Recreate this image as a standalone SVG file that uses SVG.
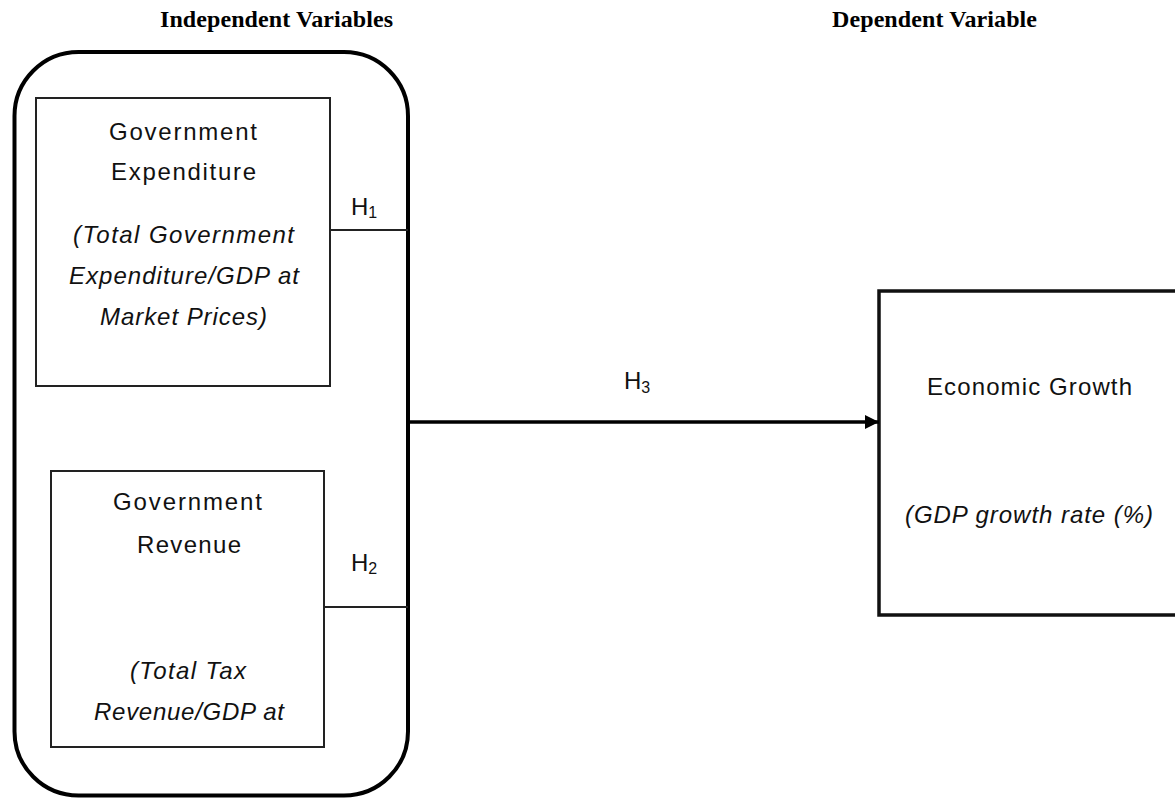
<svg xmlns="http://www.w3.org/2000/svg" width="1175" height="799" viewBox="0 0 1175 799">
<defs>
<style>
.hdr{font-family:"Liberation Serif","Times New Roman",serif;font-weight:bold;font-size:24px;fill:#000;text-anchor:middle}
.t{font-family:"Liberation Sans",Arial,sans-serif;font-size:24px;fill:#111;text-anchor:middle}
.i{font-style:italic}
.h{font-family:"Liberation Sans",Arial,sans-serif;font-size:24px;fill:#111}
.s{font-size:16px}
.box{fill:#fff;stroke:#222;stroke-width:2}
.line{stroke:#222;stroke-width:2;fill:none}
</style>
<marker id="arrh" markerWidth="15" markerHeight="15" refX="14" refY="7" orient="auto" markerUnits="userSpaceOnUse">
<path d="M0,0 L14,7 L0,14 z" fill="#000"/>
</marker>
</defs>
<rect width="1175" height="799" fill="#fff"/>
<text class="hdr" x="276.5" y="27" textLength="233">Independent Variables</text>
<text class="hdr" x="934.5" y="27" textLength="205">Dependent Variable</text>
<g id="independent-group">
<rect x="14.5" y="52" width="393.5" height="743.5" rx="64" ry="64" fill="none" stroke="#000" stroke-width="4"/>
</g>
<g id="gov-expenditure">
<rect class="box" x="36" y="98" width="294" height="288"/>
<text class="t" x="183" y="140" textLength="148">Government</text>
<text class="t" x="183.5" y="180" textLength="145">Expenditure</text>
<text class="t i" x="183.5" y="243" textLength="221">(Total Government</text>
<text class="t i" x="184" y="284" textLength="230">Expenditure/GDP at</text>
<text class="t i" x="183.5" y="325" textLength="167">Market Prices)</text>
</g>
<g id="gov-revenue">
<rect class="box" x="51" y="471" width="273" height="276"/>
<text class="t" x="187.5" y="510" textLength="149">Government</text>
<text class="t" x="189" y="553" textLength="104">Revenue</text>
<text class="t i" x="188" y="679" textLength="116">(Total Tax</text>
<text class="t i" x="189" y="720" textLength="190">Revenue/GDP at</text>
</g>
<g id="economic-growth">
<rect x="879" y="291" width="330" height="324" fill="#fff" stroke="#111" stroke-width="3.5"/>
<text class="t" x="1029.5" y="395" textLength="205">Economic Growth</text>
<text class="t i" x="1029" y="523" textLength="248">(GDP growth rate (%)</text>
</g>
<g id="connectors">
<line class="line" x1="330" y1="230" x2="408" y2="230"/>
<line class="line" x1="324" y1="607" x2="408" y2="607"/>
<line x1="408" y1="422" x2="879" y2="422" stroke="#000" stroke-width="3.5" marker-end="url(#arrh)"/>
<text class="h" x="351" y="215">H<tspan class="s" dy="3">1</tspan></text>
<text class="h" x="351" y="571">H<tspan class="s" dy="3">2</tspan></text>
<text class="h" x="624" y="389">H<tspan class="s" dy="4">3</tspan></text>
</g>
</svg>
